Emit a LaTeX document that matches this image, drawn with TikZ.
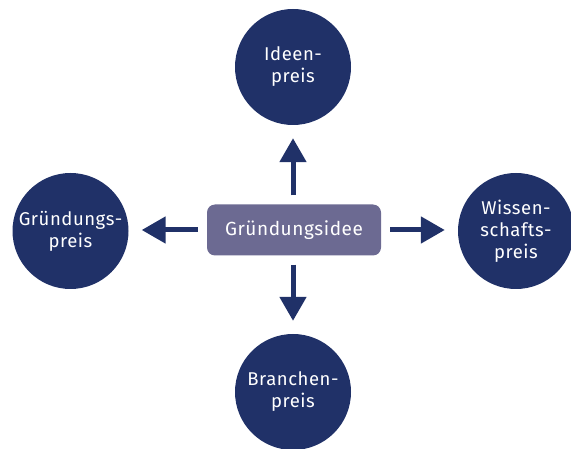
\documentclass[tikz,border=0pt]{standalone}
\usepackage{fontspec}
\setmainfont{Fira Sans}[LetterSpace=3]
\usetikzlibrary{arrows.meta}

\definecolor{navy}{RGB}{32,49,104}
\definecolor{lilac}{RGB}{108,106,146}

\begin{document}
\begin{tikzpicture}[x=1pt, y=-1pt,
	preis/.style={circle, fill=navy, text=white, minimum size=116pt, inner sep=0pt, align=center, font=\fontsize{18.5}{22}\selectfont},
	idee/.style={rectangle, rounded corners=8pt, fill=lilac, text=white, minimum width=174pt, minimum height=51pt, font=\fontsize{19}{22}\selectfont},
	pfeil/.style={draw=navy, line width=5pt, arrows={-Triangle[width=26pt, length=24pt]}, shorten <=9pt, shorten >=13pt}]

	\useasboundingbox (0,0) rectangle (571,449);

	\node [idee] (idee) at (294,230) {Gründungsidee};
	\node [preis] (ideenpreis) at (293,67) {Ideen-\\preis};
	\node [preis] (gruendungspreis) at (70.5,231) {Gründungs-\\preis};
	\node [preis] (wissenpreis) at (516,231) {Wissen-\\schafts-\\preis};
	\node [preis] (branchenpreis) at (293,392) {Branchen-\\preis};

	\draw [pfeil] (idee.north -| ideenpreis.south) -- (ideenpreis.south);
	\draw [pfeil] (idee.west) -- (idee.west -| gruendungspreis.east);
	\draw [pfeil] (idee.east) -- (idee.east -| wissenpreis.west);
	\draw [pfeil] (idee.south -| branchenpreis.north) -- (branchenpreis.north);

\end{tikzpicture}
\end{document}
